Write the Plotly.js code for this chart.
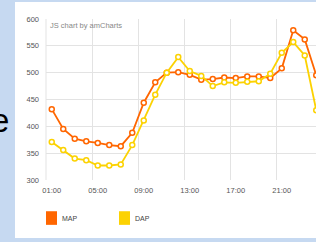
<!DOCTYPE html>
<html>
<head>
<meta charset="utf-8">
<script src="https://cdn.plot.ly/plotly-3.0.1.min.js"></script>
<style>
  html, body { margin:0; padding:0; width:316px; height:242px; overflow:hidden; background:#C6D9F1; }
  #side { position:absolute; left:-9px; top:104px; font-family:"Liberation Sans", Arial, sans-serif; font-size:33px; line-height:1; color:#000; }
  #chart { position:absolute; left:15px; top:2px; width:340px; height:236px; }
</style>
</head>
<body>
<div id="side">e</div>
<div id="chart"></div>
<script>
const hours = ["01:00","02:00","03:00","04:00","05:00","06:00","07:00","08:00","09:00","10:00","11:00","12:00",
               "13:00","14:00","15:00","16:00","17:00","18:00","19:00","20:00","21:00","22:00","23:00","24:00"];
const mapValues = [432, 395, 377, 372, 369, 365, 363, 388, 444, 482, 500, 501,
                   496, 487, 488, 491, 490, 493, 493, 490, 508, 579, 562, 495];
const dapValues = [371, 356, 340, 337, 327, 327, 329, 365, 411, 459, 500, 529,
                   503, 494, 475, 482, 481, 483, 484, 498, 537, 557, 532, 430];
const seriesNames = ["MAP", "DAP"];
const seriesColors = ["#FF6600", "#FCD202"];

function series(name, values, color) {
  return {
    type: "scatter", mode: "lines+markers", name: name,
    x: hours, y: values,
    line: { color: color, width: 1.8 },
    marker: { symbol: "circle", size: 5, color: "#ffffff", line: { color: color, width: 1.5 } },
    cliponaxis: false,
    showlegend: false
  };
}

const data = [
  series(seriesNames[0], mapValues, seriesColors[0]),
  series(seriesNames[1], dapValues, seriesColors[1])
];

const font = { family: "Liberation Sans, Arial, sans-serif", size: 7.5, color: "#555" };
const gridColor = "#e3e3e3";

const layout = {
  width: 340, height: 236,
  margin: { l: 31, r: 33, t: 16.5, b: 58 },
  paper_bgcolor: "#ffffff", plot_bgcolor: "#ffffff",
  font: font,
  showlegend: false,
  xaxis: {
    type: "category", categoryorder: "array", categoryarray: hours,
    range: [-0.5, 23.5],
    tickmode: "linear", tick0: 0, dtick: 4, tickson: "boundaries",
    tickangle: 0, automargin: false,
    showgrid: true, gridcolor: gridColor, gridwidth: 1,
    showline: false, zeroline: false, ticks: "",
    ticklabelstandoff: 4,
    tickfont: font, fixedrange: true
  },
  yaxis: {
    range: [300, 600], tickmode: "linear", tick0: 300, dtick: 50,
    automargin: false,
    showgrid: true, gridcolor: gridColor, gridwidth: 1,
    showline: false, zeroline: false, ticks: "",
    ticklabelstandoff: 6,
    tickfont: font, fixedrange: true
  },
  shapes: [
    { type: "line", xref: "paper", yref: "paper", x0: 0, x1: 0, y0: 0, y1: 1, line: { color: gridColor, width: 1 }, layer: "below" },
    { type: "rect", xref: "paper", yref: "paper", x0: 0, x1: 0.0399, y0: -0.2786, y1: -0.194, fillcolor: seriesColors[0], line: { width: 0 } },
    { type: "rect", xref: "paper", yref: "paper", x0: 0.2645, x1: 0.3043, y0: -0.2786, y1: -0.194, fillcolor: seriesColors[1], line: { width: 0 } }
  ],
  annotations: [
    { text: "JS chart by amCharts", xref: "paper", yref: "paper", x: 0.008, y: 0.958, xanchor: "left", yanchor: "middle",
      showarrow: false, font: { family: "Liberation Sans, Arial, sans-serif", size: 7.5, color: "#888" } },
    { text: seriesNames[0], xref: "paper", yref: "paper", x: 0.05, y: -0.2415, xanchor: "left", yanchor: "middle",
      showarrow: false, font: { family: "Liberation Sans, Arial, sans-serif", size: 7, color: "#444" } },
    { text: seriesNames[1], xref: "paper", yref: "paper", x: 0.314, y: -0.2415, xanchor: "left", yanchor: "middle",
      showarrow: false, font: { family: "Liberation Sans, Arial, sans-serif", size: 7, color: "#444" } }
  ]
};

Plotly.newPlot("chart", data, layout, { displayModeBar: false, staticPlot: true });
</script>
</body>
</html>
